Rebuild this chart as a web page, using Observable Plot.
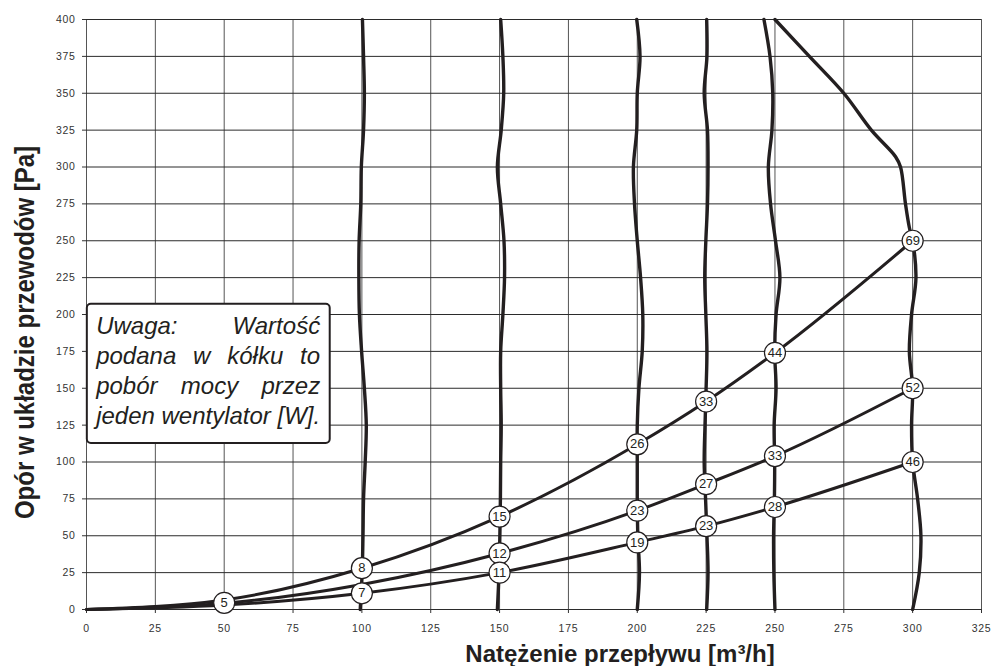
<!DOCTYPE html>
<html>
<head>
<meta charset="utf-8">
<script src="https://cdn.jsdelivr.net/npm/d3@7"></script>
<script src="https://cdn.jsdelivr.net/npm/@observablehq/plot@0.6"></script>
<style>
  body { margin: 0; background: #fff; }
  #chart svg { display: block; }
</style>
</head>
<body>
<div id="chart"></div>
<script>
// ---- data ----
const xTicks = [0, 25, 50, 75, 100, 125, 150, 175, 200, 225, 250, 275, 300, 325];
const yTicks = [0, 25, 50, 75, 100, 125, 150, 175, 200, 225, 250, 275, 300, 325, 350, 375, 400];

// system (duct) resistance curves
const curveX = [0, 50, 100, 150, 200, 225, 250, 300];
const curveA = [0, 6.5, 28, 63, 112, 141, 174, 250];
const curveB = [0, 4.2, 17, 38, 67, 85, 104, 150];
const curveC = [0, 3, 11, 25, 45.5, 56.5, 69.5, 100];

// fan characteristic (near-vertical) curves
const fanY   = [400, 375, 350, 325, 300, 275, 250, 225, 200, 175, 150, 125, 100, 75, 50, 25, 0];
const fan100 = [100.2, 100.6, 100.9, 100.6, 99.8, 99.6, 99.0, 98.9, 99.1, 99.9, 100.9, 101.6, 101.2, 100.6, 100.4, 100.1, 99.4];
const fan150 = [150.4, 151.2, 151.5, 150.6, 149.2, 150.4, 151.6, 151.8, 151.2, 150.4, 150.4, 150.6, 150.4, 150.3, 150.1, 149.8, 149.2];
const fan200 = [199.8, 201.0, 200.0, 199.8, 198.6, 199.0, 200.0, 201.2, 202.0, 201.8, 200.6, 200.0, 200.0, 200.0, 200.2, 200.8, 200.0];
const fan225 = [225.2, 225.3, 224.3, 225.5, 225.7, 225.5, 224.9, 224.5, 224.9, 225.3, 225.0, 224.6, 224.3, 224.8, 225.3, 225.7, 225.2];
const fan250 = [246.0, 248.2, 249.2, 248.9, 247.6, 248.4, 250.2, 251.8, 250.4, 249.9, 250.4, 249.7, 249.9, 249.8, 249.5, 249.6, 250.0];
const fan300X = [250, 262.5, 275, 285, 293.8, 295.6, 297.4, 298.8, 300, 301.2, 299.6, 298.8, 300, 299.6, 300, 301.8, 303, 302.4, 300];
const fan300Y = [400, 375, 350, 325, 307, 300, 275, 259, 250, 225, 200, 175, 150, 125, 100, 75, 50, 25, 0];

// power labels in circles [W]
const powerX = [50, 100, 100, 150, 150, 150, 200, 200, 200, 225, 225, 225, 250, 250, 250, 300, 300, 300];
const powerY = [4.5, 28, 11, 63, 38, 25, 112, 67, 45.5, 141, 85, 56.5, 174, 104, 69.5, 250, 150, 100];
const powerW = ["5", "8", "7", "15", "12", "11", "26", "23", "19", "33", "27", "23", "44", "33", "28", "69", "52", "46"];

const noteLines = ["Uwaga: Wartość", "podana w kółku to", "pobór mocy przez", "jeden wentylator [W]."];
const xTitle = "Natężenie przepływu [m³/h]";
const yTitle = "Opór w układzie przewodów [Pa]";

// ---- tables ----
const systemRows = [];
[["A", curveA], ["B", curveB], ["C", curveC]].forEach(([s, ys]) =>
  curveX.forEach((x, i) => systemRows.push({s, x, y: ys[i]})));

const fanRows = [];
[["100", fan100], ["150", fan150], ["200", fan200], ["225", fan225], ["250", fan250]].forEach(([f, xs]) =>
  fanY.forEach((y, i) => fanRows.push({f, x: xs[i], y})));
fan300X.forEach((x, i) => fanRows.push({f: "300", x, y: fan300Y[i]}));

const labels = powerX.map((x, i) => ({x, y: powerY[i], w: powerW[i]}));

const ink = "#231f20";
const font = "'Liberation Sans', Arial, Helvetica, sans-serif";

const chart = Plot.plot({
  width: 992,
  height: 666,
  marginLeft: 86,
  marginRight: 11,
  marginTop: 19,
  marginBottom: 57,
  style: {fontFamily: font, color: "#333", background: "#fff"},
  x: {domain: [0, 325]},
  y: {domain: [0, 400]},
  marks: [
    Plot.ruleX(xTicks, {stroke: "#555", strokeWidth: 1}),
    Plot.ruleY(yTicks, {stroke: "#2b2b2b", strokeWidth: 1}),
    Plot.axisX({ticks: xTicks, tickSize: 4, tickPadding: 11, label: null, fontSize: 10.5}),
    Plot.axisY({ticks: yTicks, tickSize: 4, tickPadding: 7, label: null, fontSize: 10.5}),
    Plot.rect([0], {x1: 0.3, x2: 88.5, y1: 112.6, y2: 206.9, fill: "#fff", stroke: ink, strokeWidth: 2, rx: 4, ry: 4}),
    Plot.line(fanRows, {x: "x", y: "y", z: "f", curve: "catmull-rom", stroke: ink, strokeWidth: 3.4}),
    Plot.line(systemRows, {x: "x", y: "y", z: "s", curve: "monotone-x", stroke: ink, strokeWidth: 3}),
    Plot.dot(labels, {x: "x", y: "y", r: 10.5, fill: "#fff", stroke: ink, strokeWidth: 1.2}),
    Plot.text(labels, {x: "x", y: "y", text: "w", fontSize: 13, fill: ink}),
    Plot.text(noteLines, {x: 3.5, y: (d, i) => 187 - i * 20.35, text: d => d, textAnchor: "start", lineAnchor: "bottom",
      fontSize: 24, fontStyle: "italic", fill: ink}),
    Plot.text([xTitle], {frameAnchor: "bottom", text: d => d, dx: 86, dy: 52.5, lineAnchor: "bottom", textAnchor: "middle",
      fontSize: 24, fontWeight: "bold", fill: ink}),
    Plot.text([yTitle], {frameAnchor: "left", text: d => d, rotate: -90, dx: -53, dy: 18, lineAnchor: "bottom", textAnchor: "middle",
      fontSize: 24, fontWeight: "bold", fill: ink})
  ]
});
document.getElementById("chart").append(chart);

// fine typographic touches
const allText = Array.from(chart.querySelectorAll("text"));
allText.filter(t => noteLines.includes(t.textContent)).forEach(t => {
  const len = t.getComputedTextLength();
  const spaces = (t.textContent.match(/ /g) || []).length;
  if (spaces > 0) t.style.wordSpacing = ((224 - len) / spaces) + "px";
});
chart.querySelectorAll('g[aria-label="x-axis tick label"] text, g[aria-label="y-axis tick label"] text').forEach(t => {
  t.style.letterSpacing = "0.7px";
});
allText.filter(t => t.textContent === yTitle).forEach(t => {
  const tr = t.getAttribute("transform");
  if (tr && tr.includes("rotate")) t.setAttribute("transform", tr + " scale(1,1.18)");
});
</script>
</body>
</html>
